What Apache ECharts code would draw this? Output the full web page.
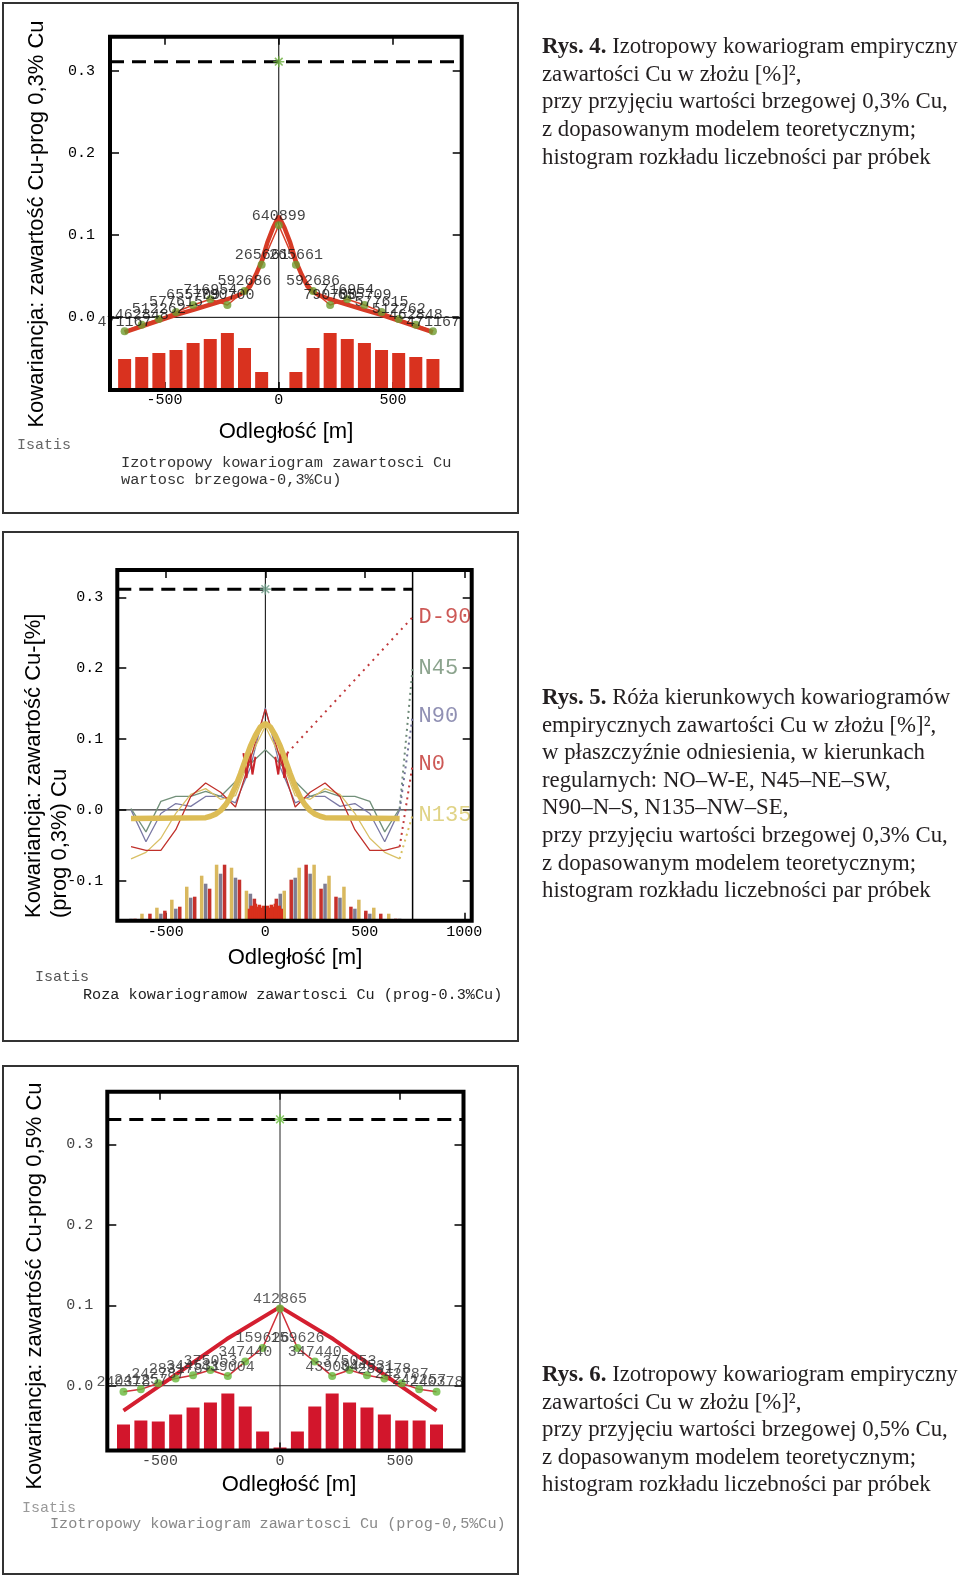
<!DOCTYPE html>
<html><head><meta charset="utf-8">
<script src="https://cdn.jsdelivr.net/npm/echarts@6/dist/echarts.min.js"></script>
<style>html,body{margin:0;padding:0;background:#fff}#c{width:960px;height:1579px}</style>
</head><body><div id="c"></div>
<script>
// ================= DATA =================
// ---- Rys. 4 (izotropowy, prog 0,3% Cu) ----
const lags1 = [-675,-600,-525,-450,-375,-300,-225,-150,-75,0,75,150,225,300,375,450,525,600,675];
const cov1  = [-0.017,-0.009,-0.002,0.0065,0.015,0.022,0.015,0.032,0.064,0.112,0.064,0.032,0.015,0.022,0.015,0.0065,-0.002,-0.009,-0.017];
const pairs1 = ['471167','462848','512262','577615','655709','716954','790700','592686','265661','640899','265661','592686','790700','716954','655709','577615','512262','462848','471167'];
const hist1 = [31,33,37,40,47,51,57,42,18,2,18,42,57,51,47,40,37,33,31];
const model1X = [-675,-600,-525,-450,-375,-300,-225,-175,-150,-125,-100,-75,-50,-25,0,25,50,75,100,125,150,175,225,300,375,450,525,600,675];
const model1Y = [-0.018,-0.011,-0.004,0.003,0.009,0.0155,0.022,0.027,0.031,0.038,0.052,0.068,0.091,0.109,0.123,0.109,0.091,0.068,0.052,0.038,0.031,0.027,0.022,0.0155,0.009,0.003,-0.004,-0.011,-0.018];
const sill1 = 0.311;
const xTicks1 = [-500,0,500];
const yTicks1 = [0,0.1,0.2,0.3];

// ---- Rys. 5 (roza kierunkowa) ----
const lags2 = [-675,-600,-525,-450,-375,-300,-225,-150,-75,0,75,150,225,300,375,450,525,600,675];
const covN0   = [-0.052,-0.057,-0.057,-0.028,0.019,0.038,0.025,0.004,0.072,0.142,0.072,0.004,0.025,0.038,0.019,-0.028,-0.057,-0.057,-0.052];
const covN45  = [0.002,-0.031,0.012,0.019,0.019,0.026,0.019,0.040,0.065,0.085,0.065,0.040,0.019,0.026,0.019,0.019,0.012,-0.031,0.002];
const covN90  = [0.000,-0.045,-0.005,0.009,0.005,0.019,0.019,0.010,0.060,0.144,0.060,0.010,0.019,0.019,0.005,0.009,-0.005,-0.045,0.000];
const covN135 = [-0.069,-0.060,-0.040,-0.005,0.022,0.030,0.015,0.020,0.075,0.118,0.075,0.020,0.015,0.030,0.022,-0.005,-0.040,-0.060,-0.069];
const d90X = [-110,-95,-80,-65,-50,50,65,80,95,110];
const d90Y = [0.080,0.045,0.088,0.050,0.075,0.075,0.050,0.088,0.045,0.080];
const model2X = [-675,-300,-275,-250,-225,-200,-175,-150,-125,-100,-75,-50,-25,0,25,50,75,100,125,150,175,200,225,250,275,300,675];
const model2Y = [-0.012,-0.011,-0.009,-0.006,-0.001,0.007,0.018,0.033,0.051,0.071,0.090,0.105,0.117,0.122,0.117,0.105,0.090,0.071,0.051,0.033,0.018,0.007,-0.001,-0.006,-0.009,-0.011,-0.012];
const histLags2 = [-675,-600,-525,-450,-375,-300,-225,-150,-75,75,150,225,300,375,450,525,600,675];
const histN135 = [1,7,13,21,34,45,56,53,30,30,53,56,45,34,21,13,7,1];
const histN90  = [2,1,7,12,23,37,47,43,27,27,43,47,37,23,12,7,1,2];
const histN0   = [2,7,10,14,24,32,56,41,22,22,41,56,32,24,14,10,7,2];
const histD90X = [-80,-70,-60,-50,-40,-30,-20,-10,0,10,20,30,40,50,60,70,80];
const histD90  = [12,15,13,17,14,16,13,15,11,15,13,16,14,17,13,15,12];
const dirNames = ['D-90','N45','N90','N0','N135'];
const dirLabelY = [0.272,0.200,0.132,0.064,-0.007];
const dirStartX = [110,675,675,675,675];
const dirStartY = [0.080,0.002,0.000,-0.052,-0.069];
const labelLineX2 = 740;
const sill2 = 0.3116;
const xTicks2 = [-500,0,500,1000];
const yTicks2 = [-0.1,0,0.1,0.2,0.3];

// ---- Rys. 6 (izotropowy, prog 0,5% Cu) ----
const lags3 = [-652.5,-580,-507.5,-435,-362.5,-290,-217.5,-145,-72.5,0,72.5,145,217.5,290,362.5,435,507.5,580,652.5];
const cov3  = [-0.0075,-0.0045,0.003,0.009,0.013,0.0195,0.012,0.030,0.047,0.096,0.047,0.030,0.012,0.0195,0.013,0.009,0.003,-0.0045,-0.0075];
const pairs3 = ['240378','241257','242787','283178','344531','375053','439004','347440','159626','412865','159626','347440','439004','375053','344531','283178','242787','241257','240378'];
const hist3 = [26,30,29,36,43,48,57,44,19,3,19,44,57,48,43,36,30,30,26];
const model3X = [-652.5,-472,-222,0,222,472,652.5];
const model3Y = [-0.031,0.006,0.058,0.098,0.058,0.006,-0.031];
const sill3 = 0.331;
const xTicks3 = [-500,0,500];
const yTicks3 = [0,0.1,0.2,0.3];

// ---- captions ----
const cap1 = ['{b|Rys. 4.} Izotropowy kowariogram empiryczny','zawartości Cu w złożu [%]²,','przy przyjęciu wartości brzegowej 0,3% Cu,','z dopasowanym modelem teoretycznym;','histogram rozkładu liczebności par próbek'];
const cap2 = ['{b|Rys. 5.} Róża kierunkowych kowariogramów','empirycznych zawartości Cu w złożu [%]²,','w płaszczyźnie odniesienia, w kierunkach','regularnych: NO–W-E, N45–NE–SW,','N90–N–S, N135–NW–SE,','przy przyjęciu wartości brzegowej 0,3% Cu,','z dopasowanym modelem teoretycznym;','histogram rozkładu liczebności par próbek'];
const cap3 = ['{b|Rys. 6.} Izotropowy kowariogram empiryczny','zawartości Cu w złożu [%]²,','przy przyjęciu wartości brzegowej 0,5% Cu,','z dopasowanym modelem teoretycznym;','histogram rozkładu liczebności par próbek'];

// ================= LAYOUT =================
const P1 = {left:110, top:36.7, width:351.7, height:353.3, xmin:-739, xmax:801, ymin:-0.0884, ymax:0.3414};
const P2 = {left:117.3, top:570, width:354.4, height:350.7, xmin:-744, xmax:1037, ymin:-0.1564, ymax:0.3386};
const P3 = {left:107.3, top:1091.7, width:356.2, height:358.8, xmin:-720, xmax:765, ymin:-0.0805, ymax:0.3654};

const MONO = '"Liberation Mono","DejaVu Sans Mono",monospace';
const SANS = '"Liberation Sans",Arial,sans-serif';
const SERIF = '"Liberation Serif","Times New Roman",serif';

function zip(xs, ys){ return xs.map((x,i)=>[x, ys[i]]); }

function xAx(g, P, pos, ticks, lab){
  return {type:'value', gridIndex:g, position:pos, min:P.xmin, max:P.xmax,
    axisLine:{show:false, onZero:false}, splitLine:{show:false},
    axisTick:{show:true, inside:true, length:8, customValues:ticks, lineStyle:{color:'#000', width:1.5}},
    axisLabel: lab ? {show:true, customValues:ticks, fontFamily:MONO, fontSize:15, color:lab.color, margin:lab.margin, formatter:v=>String(Math.round(v))} : {show:false}};
}
function yAx(g, P, pos, ticks, lab){
  return {type:'value', gridIndex:g, position:pos, min:P.ymin, max:P.ymax,
    axisLine:{show:false, onZero:false}, splitLine:{show:false},
    axisTick:{show:true, inside:true, length:9, customValues:ticks, lineStyle:{color:'#000', width:1.5}},
    axisLabel: lab ? {show:true, customValues:ticks, fontFamily:MONO, fontSize:15, color:lab.color, margin:lab.margin, formatter:v=>(Math.abs(v)<1e-9?0:v).toFixed(1)} : {show:false}};
}
function hAx(g, P){ return {type:'value', gridIndex:g, show:false, min:0, max:P.height, axisLine:{onZero:false}}; }

const grids = [P1,P2,P3].map(P=>({left:P.left, top:P.top, width:P.width, height:P.height, show:false, containLabel:false}));
const xAxes = [xAx(0,P1,'bottom',xTicks1,{color:'#000',margin:3}), xAx(0,P1,'top',xTicks1,null),
               xAx(1,P2,'bottom',xTicks2,{color:'#000',margin:4}), xAx(1,P2,'top',xTicks2,null),
               xAx(2,P3,'bottom',xTicks3,{color:'#444',margin:3}), xAx(2,P3,'top',xTicks3,null)];
const yAxes = [yAx(0,P1,'left',yTicks1,{color:'#000',margin:15}), yAx(0,P1,'right',yTicks1,null), hAx(0,P1),
               yAx(1,P2,'left',yTicks2,{color:'#000',margin:14}), yAx(1,P2,'right',yTicks2,null), hAx(1,P2),
               yAx(2,P3,'left',yTicks3,{color:'#444',margin:14}), yAx(2,P3,'right',yTicks3,null), hAx(2,P3)];

function ln(xi, yi, data, color, width, type, z){
  return {type:'line', xAxisIndex:xi, yAxisIndex:yi, data, symbol:'none', silent:true, z:z||3,
    lineStyle:{color, width, type:type||'solid'}};
}
const ASTER = 'path://M-10 0L10 0M0-10L0 10M-7-7L7 7M-7 7L7-7';
function aster(xi, yi, y, color){
  return {type:'scatter', xAxisIndex:xi, yAxisIndex:yi, data:[[0,y]], symbol:ASTER, symbolSize:11, z:6,
    itemStyle:{color:'rgba(0,0,0,0)', borderColor:color, borderWidth:1.6}};
}
function dots(xi, yi, xs, ys, labels, color, lblColor){
  return {type:'scatter', xAxisIndex:xi, yAxisIndex:yi, data:zip(xs,ys), symbolSize:8, z:5,
    itemStyle:{color}, label:{show:true, position:'top', distance:0, offset:[0,2], formatter:p=>labels[p.dataIndex],
      fontFamily:MONO, fontSize:15, color:lblColor}};
}
function bars(xi, yi, xs, hs, color, w){
  return {type:'bar', xAxisIndex:xi, yAxisIndex:yi, data:zip(xs,hs), barWidth:w, barGap:'-100%', itemStyle:{color}, z:1, silent:true};
}
const off2 = 20; // in-group offset of direction bars (m)
const d90 = zip(d90X, d90Y);

const series = [
  // ---- panel 1 ----
  bars(0,2,lags1,hist1,'#d9321f',13),
  ln(0,0,[[P1.xmin,0],[P1.xmax,0]],'#000',1),
  ln(0,0,[[0,P1.ymin],[0,P1.ymax]],'#000',1),
  ln(0,0,[[P1.xmin,sill1],[P1.xmax,sill1]],'#000',3,[14,8]),
  ln(0,0,zip(lags1,cov1),'#d8402a',1.5),
  ln(0,0,zip(model1X,model1Y),'#d63b26',4.5,'solid',4),
  dots(0,0,lags1,cov1,pairs1,'#6f9b2e','#111'),
  aster(0,0,sill1,'#6cae3c'),
  // ---- panel 2 ----
  bars(2,5,histLags2.map(x=>x+Math.sign(x)*off2),histN135,'#d9b85e',3.5),
  bars(2,5,histLags2,histN90,'#7e7c92',3.5),
  bars(2,5,histLags2.map(x=>x-Math.sign(x)*off2),histN0,'#c5302b',3.5),
  bars(2,5,histD90X,histD90,'#d8301c',3.5),
  ln(2,3,[[P2.xmin,0],[labelLineX2,0]],'#000',1),
  ln(2,3,[[0,P2.ymin],[0,P2.ymax]],'#000',1),
  ln(2,3,[[labelLineX2,P2.ymin],[labelLineX2,P2.ymax]],'#000',1.5),
  ln(2,3,[[P2.xmin,sill2],[labelLineX2,sill2]],'#000',3,[14,8]),
  ln(2,3,zip(lags2,covN90),'#7a78a4',1.3),
  ln(2,3,zip(lags2,covN45),'#72907a',1.3),
  ln(2,3,zip(lags2,covN135),'#d9c066',1.3),
  ln(2,3,zip(lags2,covN0),'#c0302a',1.3),
  ln(2,3,d90.filter(p=>p[0]<0),'#c8242a',2),
  ln(2,3,d90.filter(p=>p[0]>0),'#c8242a',2),
  ln(2,3,zip(model2X,model2Y),'#dcbc55',5.5,'solid',4),
  ln(2,3,[[dirStartX[0],dirStartY[0]],[labelLineX2,dirLabelY[0]]],'#c0383a',2,[2,5]),
  ln(2,3,[[dirStartX[1],dirStartY[1]],[labelLineX2,dirLabelY[1]]],'#6e8a78',2,[2,4]),
  ln(2,3,[[dirStartX[2],dirStartY[2]],[labelLineX2,dirLabelY[2]]],'#6f6f98',2,[2,4]),
  ln(2,3,[[dirStartX[3],dirStartY[3]],[labelLineX2,dirLabelY[3]]],'#c0383a',2,[2,4]),
  ln(2,3,[[dirStartX[4],dirStartY[4]],[labelLineX2,dirLabelY[4]]],'#d8c060',2,[2,4]),
  aster(2,3,sill2,'#6a9a84'),
  {type:'scatter', xAxisIndex:2, yAxisIndex:3, symbolSize:0, z:3,
   data:dirLabelY.map((y,i)=>({value:[labelLineX2,y], label:{color:['#c0302c','#6e8c70','#7474a0','#c0302c','#d8c868'][i]}})),
   label:{show:true, position:'right', distance:6, formatter:p=>dirNames[p.dataIndex], fontFamily:MONO, fontSize:22}},
  // ---- panel 3 ----
  bars(4,8,lags3,hist3,'#d2162c',13),
  ln(4,6,[[P3.xmin,0],[P3.xmax,0]],'#222',1),
  ln(4,6,[[0,P3.ymin],[0,P3.ymax]],'#222',1),
  ln(4,6,[[P3.xmin,sill3],[P3.xmax,sill3]],'#000',3,[14,8]),
  ln(4,6,zip(lags3,cov3),'#d0303a',1.5),
  ln(4,6,zip(model3X,model3Y),'#d41f30',4,'solid',4),
  dots(4,6,lags3,cov3,pairs3,'#66b83a','#333'),
  aster(4,6,sill3,'#6cc040'),
];

// ================= GRAPHIC (frames & texts) =================
function frame(P){ return {type:'rect', z:100, shape:{x:P.left, y:P.top, width:P.width, height:P.height}, style:{fill:'none', stroke:'#000', lineWidth:4}}; }
function box(x,y,w,h){ return {type:'rect', z:100, shape:{x,y,width:w,height:h}, style:{fill:'none', stroke:'#333', lineWidth:2}}; }
function txt(x,y,t,font,size,color,align,rot){
  return {type:'text', x, y, rotation:rot||0, z:60,
    style:{text:t, fontFamily:font, fontSize:size, fill:color, align:align||'left', textAlign:align||'left', verticalAlign:'middle', textVerticalAlign:'middle'}};
}
function captions(lines, x, y0, dy){
  return lines.map((t,i)=>({type:'text', x, y:y0+i*dy, z:60,
    style:{text:t, fontFamily:SERIF, fontSize:22.8, fill:'#231f20', align:'left', textAlign:'left', verticalAlign:'middle', textVerticalAlign:'middle',
      rich:{b:{fontFamily:SERIF, fontSize:22.8, fontWeight:'bold', fill:'#231f20'}}}}));
}
const R90 = Math.PI/2;
const graphics = [
  box(3,3,515,510), box(3,532,515,509), box(3,1066,515,508),
  frame(P1), frame(P2), frame(P3),
  {type:'rect', z:50, shape:{x:P2.left+P2.width+2, y:575, width:517-(P2.left+P2.width+2), height:260}, style:{fill:'#fff'}},
  // panel 1
  txt(37,224,'Kowariancja: zawartość Cu-prog 0,3% Cu',SANS,22,'#000','center',R90),
  txt(286,432,'Odległość [m]',SANS,22,'#000','center'),
  txt(17,445,'Isatis',MONO,15,'#666','left'),
  txt(121,463,'Izotropowy kowariogram zawartosci Cu',MONO,15.3,'#333','left'),
  txt(121,480,'wartosc brzegowa-0,3%Cu)',MONO,15.3,'#333','left'),
  // panel 2
  txt(34,918,'Kowariancja: zawartość Cu-[%]',SANS,22,'#000','left',R90),
  txt(60,918,'(prog 0,3%) Cu',SANS,22,'#000','left',R90),
  txt(295,958,'Odległość [m]',SANS,22,'#000','center'),
  txt(35,977,'Isatis',MONO,15,'#555','left'),
  txt(83,995,'Roza kowariogramow zawartosci Cu (prog-0.3%Cu)',MONO,15.2,'#222','left'),
  // panel 3
  txt(35,1286,'Kowariancja: zawartość Cu-prog 0,5% Cu',SANS,22,'#000','center',R90),
  txt(289,1485,'Odległość [m]',SANS,22,'#000','center'),
  txt(22,1508,'Isatis',MONO,15,'#999','left'),
  txt(50,1524,'Izotropowy kowariogram zawartosci Cu (prog-0,5%Cu)',MONO,15.2,'#888','left'),
].concat(captions(cap1,542,47.3,27.6), captions(cap2,542,698,27.6), captions(cap3,542,1375,27.6));

const chart = echarts.init(document.getElementById('c'), null, {renderer:'canvas', width:960, height:1579});
chart.setOption({
  animation:false, backgroundColor:'#fff',
  grid:grids, xAxis:xAxes, yAxis:yAxes, series, graphic:{elements:graphics}
});
</script></body></html>
